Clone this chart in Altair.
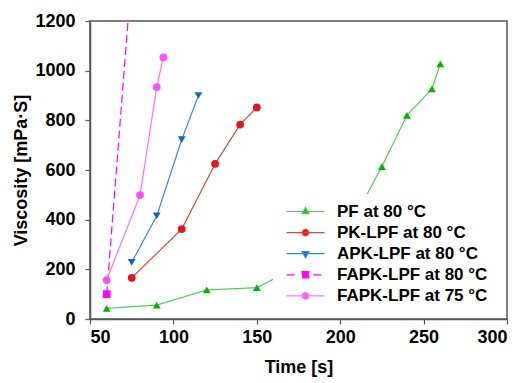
import altair as alt
import pandas as pd

series_names = ["PF at 80 °C", "PK-LPF at 80 °C", "APK-LPF at 80 °C",
                "FAPK-LPF at 80 °C", "FAPK-LPF at 75 °C"]

pf_time = [60, 90, 120, 150, 180, 210, 225, 240, 255, 260]
pf_visc = [43, 56, 117, 126, 230, 425, 614, 820, 927, 1027]

pk_time = [75, 105, 125, 140, 150]
pk_visc = [166, 362, 625, 783, 852]

apk_time = [75, 90, 105, 115]
apk_visc = [228, 415, 722, 900]

fapk80_time = [60, 75]
fapk80_visc = [100, 1390]

fapk75_time = [60, 80, 90, 94]
fapk75_visc = [157, 499, 934, 1054]

x_ticks = [50, 100, 150, 200, 250, 300]
y_ticks = [0, 200, 400, 600, 800, 1000, 1200]

marker_colors = ["#00b400", "#e8141b", "#1565c0", "#ff00ff", "#ff4dff"]
line_colors = ["#4ccf4c", "#f03c3c", "#3d85d8", "#ff00ff", "#ff70ff"]
dashes = [[1, 0], [1, 0], [1, 0], [8, 4], [1, 0]]
widths = [1.2, 1.2, 1.2, 2.8, 1.2]
marker_shapes = ["triangle-up", "circle", "triangle-down", "square", "circle"]

# legend glyphs: line + marker, in symbol units
legend_paths = [
    "M-1,0H8.5M2.9,0.55L4.6,0.55L3.75,-1.0Z",
    "M-1,0H8.5M2.95,0A0.8,0.8 0 1,0 4.55,0A0.8,0.8 0 1,0 2.95,0Z",
    "M-1,0H8.5M2.9,-0.55L4.6,-0.55L3.75,1.0Z",
    "M-1,0H1.8M2.9,-0.8H4.6V0.8H2.9ZM5.7,0H8.5",
    "M-1,0H8.5M2.95,0A0.8,0.8 0 1,0 4.55,0A0.8,0.8 0 1,0 2.95,0Z",
]

rows = []
for name, ts, vs in zip(series_names,
                        [pf_time, pk_time, apk_time, fapk80_time, fapk75_time],
                        [pf_visc, pk_visc, apk_visc, fapk80_visc, fapk75_visc]):
    for t, v in zip(ts, vs):
        rows.append({"series": name, "time": t, "visc": v})
df = pd.DataFrame(rows)

FONT = "Liberation Sans"

x_enc = alt.X("time:Q", scale=alt.Scale(domain=[50, 300], nice=False),
              axis=alt.Axis(values=x_ticks, format="d", title="Time [s]", titlePadding=12))
y_enc = alt.Y("visc:Q", scale=alt.Scale(domain=[0, 1200], nice=False),
              axis=alt.Axis(values=y_ticks, format="d", title="Viscosity [mPa·S]", titlePadding=4))

fill_scale = alt.Scale(domain=series_names, range=marker_colors)
stroke_scale = alt.Scale(domain=series_names, range=line_colors)
leg = alt.Legend(title=None)

base = alt.Chart(df)

lines = base.mark_line(clip=True).encode(
    x=x_enc, y=y_enc,
    stroke=alt.Stroke("series:N", scale=stroke_scale, legend=leg),
    strokeDash=alt.StrokeDash("series:N", scale=alt.Scale(domain=series_names, range=dashes), legend=None),
    strokeWidth=alt.StrokeWidth("series:N", scale=alt.Scale(domain=series_names, range=widths), legend=None),
    order="time:Q",
)

point_layers = []
for shp in dict.fromkeys(marker_shapes):
    members = [n for n, s in zip(series_names, marker_shapes) if s == shp]
    point_layers.append(
        base.transform_filter(alt.FieldOneOfPredicate(field="series", oneOf=members))
        .mark_point(clip=True, filled=True, size=60, opacity=1, shape=shp)
        .encode(x=x_enc, y=y_enc,
                fill=alt.Fill("series:N", scale=fill_scale, legend=leg))
    )

legend_layer = base.transform_filter("datum.time < 0").mark_point(
    filled=True, size=64, opacity=1
).encode(
    x=x_enc, y=y_enc,
    fill=alt.Fill("series:N", scale=fill_scale, legend=leg),
    stroke=alt.Stroke("series:N", scale=stroke_scale, legend=leg),
    shape=alt.Shape("series:N", scale=alt.Scale(domain=series_names, range=legend_paths), legend=leg),
)

chart = alt.layer(lines, *point_layers, legend_layer).properties(
    width=417, height=298,
    autosize=alt.AutoSizeParams(type="none"),
    padding={"left": 90, "top": 21, "right": 15, "bottom": 64},
).configure_view(
    stroke="#555555", strokeWidth=1.5
).configure_axis(
    grid=False,
    labelFont=FONT, labelFontWeight="bold", labelFontSize=18, labelColor="#000000",
    titleFont=FONT, titleFontWeight="bold", titleFontSize=18, titleColor="#000000",
    domainColor="#555555", domainWidth=1.5,
    tickColor="#555555", tickSize=5, tickWidth=1.2,
    labelPadding=4,
).configure_axisY(labelPadding=10).configure_legend(
    orient="none", legendX=183, legendY=173,
    fillColor="white", strokeColor="white", padding=9,
    labelFont=FONT, labelFontWeight="bold", labelFontSize=17, labelColor="#000000",
    labelOffset=38, rowPadding=3.1, symbolSize=64, symbolStrokeWidth=1.3, symbolOpacity=1,
)

chart.save("out.html", embed_options={"renderer": "svg", "actions": False})
